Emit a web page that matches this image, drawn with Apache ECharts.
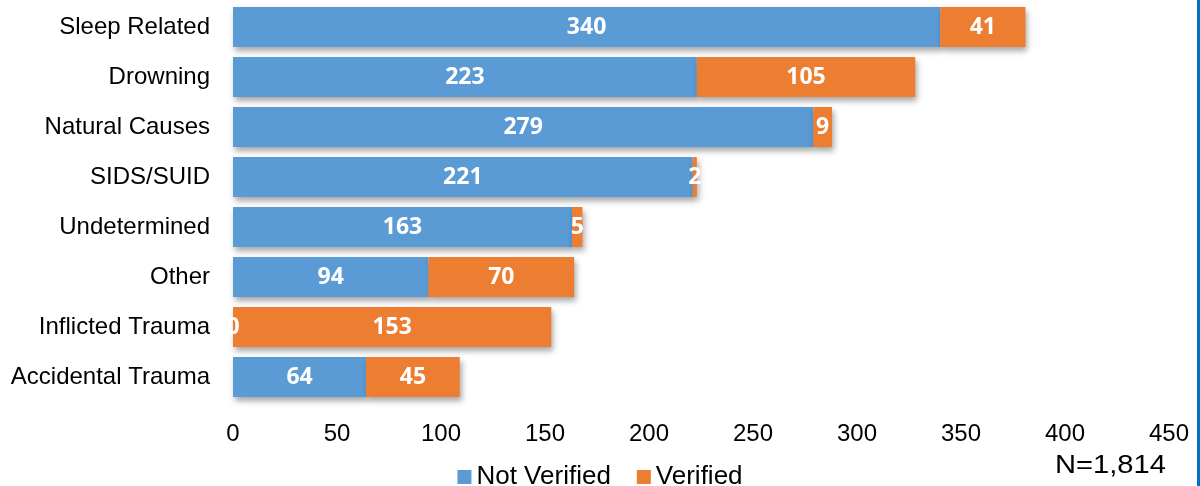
<!DOCTYPE html>
<html><head><meta charset="utf-8">
<script src="https://cdn.jsdelivr.net/npm/echarts@6/dist/echarts.min.js"></script>
<style>html,body{margin:0;padding:0;background:#fff}#c{width:1200px;height:486px}</style>
</head><body><div id="c"></div>
<script>
const categories = ["Sleep Related","Drowning","Natural Causes","SIDS/SUID","Undetermined","Other","Inflicted Trauma","Accidental Trauma"];
const notVerified = [340,223,279,221,163,94,0,64];
const verified = [41,105,9,2,5,70,153,45];
const xTicks = [0,50,100,150,200,250,300,350,400,450];
const totalLabel = "N=1,814";

const chart = echarts.init(document.getElementById('c'), null, {renderer:'canvas'});
const labelStyle = {show:true, position:'inside', color:'#fff', fontFamily:'Open Sans', fontWeight:'bold', fontSize:23};
const shadow = {shadowBlur:6, shadowColor:'rgba(0,0,0,0.35)', shadowOffsetX:2, shadowOffsetY:4};
chart.setOption({
  animation:false,
  grid:{left:233, right:31, top:2, height:400},
  xAxis:{type:'value', min:xTicks[0], max:xTicks[xTicks.length-1], interval:50,
    axisLine:{show:false}, axisTick:{show:false}, splitLine:{show:false},
    axisLabel:{color:'#000', fontFamily:'Liberation Sans', fontSize:24, margin:20}},
  yAxis:{type:'category', data:categories, inverse:true,
    axisLine:{show:false}, axisTick:{show:false},
    axisLabel:{color:'#000', fontFamily:'Liberation Sans', fontSize:24, margin:23}},
  legend:{top:459, left:'center', itemWidth:14, itemHeight:14, itemGap:26, icon:'rect',
    textStyle:{color:'#000', fontFamily:'Liberation Sans', fontSize:26, padding:[0,0,0,0]},
    data:['Not Verified','Verified']},
  graphic:[
    {type:'text', left:1055, top:453, scaleX:1.12, style:{text:totalLabel, fill:'#000', font:'26px "Liberation Sans"'}},
    {type:'rect', shape:{x:1197, y:0, width:3, height:486}, style:{fill:'#0070C0'}}
  ],
  series:[
    {name:'Not Verified', type:'bar', stack:'t', data:notVerified, barWidth:'80%',
      itemStyle:Object.assign({color:'#5B9BD5'}, shadow), label:labelStyle},
    {name:'Verified', type:'bar', stack:'t', data:verified, barWidth:'80%',
      itemStyle:Object.assign({color:'#ED7D31'}, shadow), label:labelStyle}
  ]
});
</script></body></html>
